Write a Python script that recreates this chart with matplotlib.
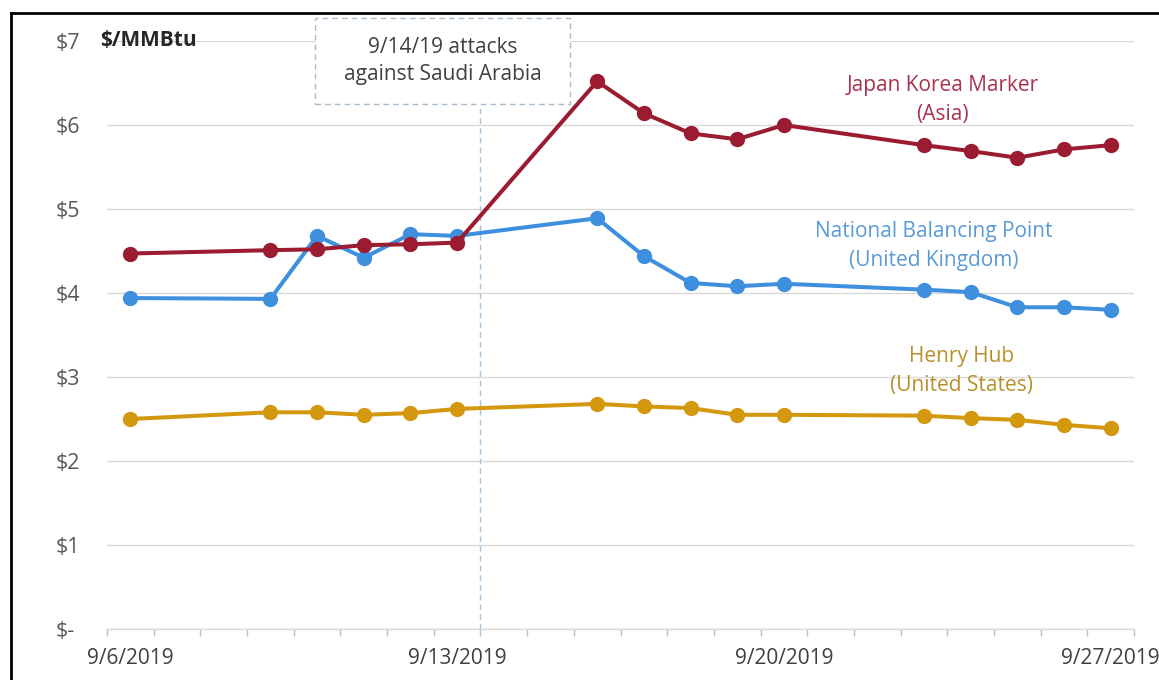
import numpy as np
import pandas as pd
import matplotlib
matplotlib.use("Agg")
import matplotlib.pyplot as plt
from matplotlib.lines import Line2D
from matplotlib.patches import Rectangle

plt.rcParams['font.family'] = ['Open Sans', 'DejaVu Sans']

# trading days, Sept 2019
dates = ['2019-09-06', '2019-09-09', '2019-09-10', '2019-09-11', '2019-09-12',
         '2019-09-13', '2019-09-16', '2019-09-17', '2019-09-18', '2019-09-19',
         '2019-09-20', '2019-09-23', '2019-09-24', '2019-09-25', '2019-09-26',
         '2019-09-27']
jkm = [4.47, 4.51, 4.52, 4.57, 4.58, 4.60, 6.52, 6.14, 5.90, 5.83, 6.00,
       5.76, 5.69, 5.61, 5.71, 5.76]
nbp = [3.94, 3.93, 4.68, 4.42, 4.70, 4.68, 4.89, 4.44, 4.12, 4.08, 4.11,
       4.04, 4.01, 3.83, 3.83, 3.80]
hh = [2.50, 2.58, 2.58, 2.55, 2.57, 2.62, 2.68, 2.65, 2.63, 2.55, 2.55,
      2.54, 2.51, 2.49, 2.43, 2.39]

tick_dates = ['2019-09-06', '2019-09-13', '2019-09-20', '2019-09-27']
tick_labels = ['9/6/2019', '9/13/2019', '9/20/2019', '9/27/2019']
y_ticks = [0, 1, 2, 3, 4, 5, 6, 7]
y_labels = ['$-', '$1', '$2', '$3', '$4', '$5', '$6', '$7']
event_date = '2019-09-14'

start = pd.Timestamp(dates[0])
days = np.array([(pd.Timestamp(d) - start).days for d in dates])
tick_days = [(pd.Timestamp(d) - start).days for d in tick_dates]
event_day = (pd.Timestamp(event_date) - start).days

c_jkm = '#9b1b30'
c_nbp = '#3f8fdf'
c_hh = '#d4980f'
grey = '#595959'

fig = plt.figure(figsize=(11.59, 6.8), dpi=100)
ax = fig.add_axes([107 / 1159, 51 / 680, 1027 / 1159, 588 / 680])

for vals, col in [(hh, c_hh), (nbp, c_nbp), (jkm, c_jkm)]:
    ax.plot(days, vals, color=col, lw=2.9, marker='o', ms=10,
            solid_capstyle='round', zorder=3)

ax.set_xlim(days[0] - 0.5, days[-1] + 0.5)
ax.set_ylim(0, 7)

ax.set_yticks(y_ticks)
ax.set_yticklabels(y_labels)
for lab in ax.get_yticklabels():
    lab.set_horizontalalignment('left')
ax.tick_params(axis='y', length=0, pad=37, labelsize=15.5, labelcolor=grey)
ax.yaxis.grid(True, color='#d9d9d9', lw=1)

ax.set_xticks(tick_days)
ax.set_xticklabels(tick_labels)
ax.set_xticks(np.arange(days[0] - 0.5, days[-1] + 1), minor=True)
ax.tick_params(axis='x', which='major', length=0, pad=14, labelsize=15,
               labelcolor='#404040')
ax.tick_params(axis='x', which='minor', length=5, color='#bfbfbf', width=1)

for s in ['top', 'right', 'left']:
    ax.spines[s].set_visible(False)
ax.spines['bottom'].set_color('#d9d9d9')
ax.spines['bottom'].set_linewidth(1)
ax.set_axisbelow(True)

# unit label
ax.text(-0.64, 7, '$/MMBtu', fontsize=15, fontweight='bold', color='#262626',
        va='center', ha='left')

# event marker
ax.plot([event_day - 0.5, event_day - 0.5], [0, 6.25], ls=(0, (4, 3)),
        color='#9dc3e6', lw=1, clip_on=False, zorder=2)
box = Rectangle((3.96, 6.25), 5.46, 1.02, fill=True, facecolor='white',
                edgecolor='#a6bccf', ls=(0, (4, 3)), lw=1, clip_on=False,
                zorder=4)
ax.add_patch(box)
ax.text(6.69, 6.76, '9/14/19 attacks\nagainst Saudi Arabia', fontsize=15,
        color='#404040', ha='center', va='center', linespacing=1.4, zorder=5)

# series labels
ax.text(17.4, 6.30, 'Japan Korea Marker\n(Asia)', fontsize=15, color='#a83250',
        ha='center', va='center', linespacing=1.5)
ax.text(17.2, 4.56, 'National Balancing Point\n(United Kingdom)', fontsize=15,
        color='#5b9bd5', ha='center', va='center', linespacing=1.5)
ax.text(17.8, 3.07, 'Henry Hub\n(United States)', fontsize=15,
        color='#b8902a', ha='center', va='center', linespacing=1.5)

# frame of the picture
fig.add_artist(Line2D([11 / 1159, 1], [1 - 13 / 680, 1 - 13 / 680],
                      color='black', lw=2))
fig.add_artist(Line2D([11 / 1159, 11 / 1159], [0, 1 - 13 / 680],
                      color='black', lw=2))

fig.savefig('out.png', dpi=100)
